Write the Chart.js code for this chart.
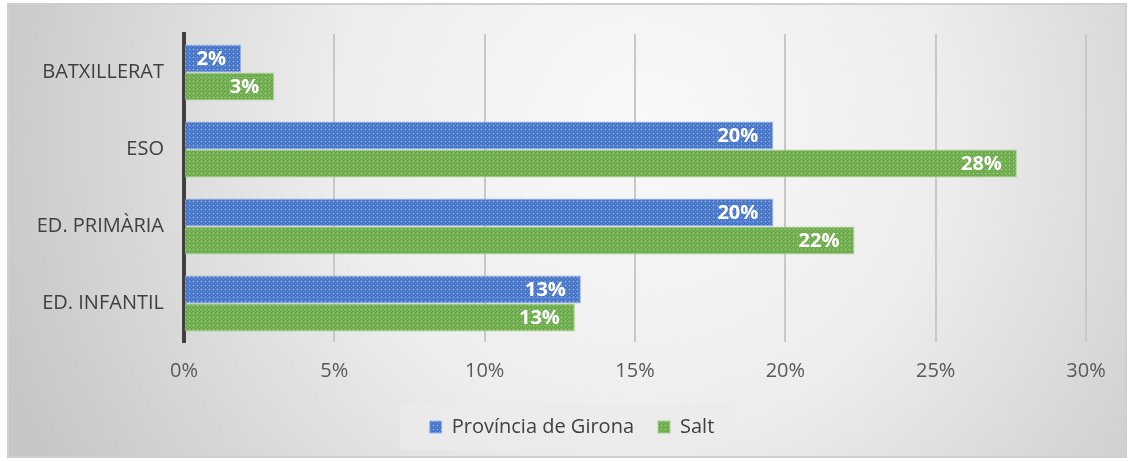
<!DOCTYPE html>
<html>
<head>
<meta charset="utf-8">
<script src="https://cdn.jsdelivr.net/npm/chart.js@4"></script>
<style>
  html, body { margin: 0; padding: 0; background: #ffffff; }
  canvas { display: block; }
</style>
</head>
<body>
<canvas id="chart" width="1132" height="461"></canvas>
<script>
// Chart data
const categories = ['BATXILLERAT', 'ESO', 'ED. PRIMÀRIA', 'ED. INFANTIL'];
const gironaValues = [1.9, 19.6, 19.6, 13.2];
const saltValues = [3.0, 27.7, 22.3, 13.0];
const seriesNames = ['Província de Girona', 'Salt'];
const xTickMax = 30;
const xTickStep = 5;

const FONT = "'Open Sans', 'DejaVu Sans', sans-serif";

// Small dotted texture for bar fills
function makePattern(base, light) {
  const c = document.createElement('canvas');
  c.width = 4;
  c.height = 4;
  const g = c.getContext('2d');
  g.fillStyle = base;
  g.fillRect(0, 0, 4, 4);
  g.fillStyle = light;
  g.fillRect(1, 0, 1, 1);
  g.fillRect(0, 1, 3, 1);
  g.fillRect(1, 2, 1, 1);
  g.fillRect(3, 3, 1, 1);
  return g.createPattern(c, 'repeat');
}

const blueFill = makePattern('#4472c4', 'rgba(130,162,225,0.7)');
const greenFill = makePattern('#6aa84a', 'rgba(150,200,120,0.7)');

// Gradient background + frame + legend panel
const backgroundPlugin = {
  id: 'background',
  afterUpdate(chart) {
    // nudge the legend to the right, like the original
    const lg = chart.legend;
    if (!lg || !lg.legendHitBoxes) return;
    const shift = 22;
    lg.left += shift;
    lg.right += shift;
    lg.legendHitBoxes.forEach(b => { b.left += shift; });
  },
  beforeDraw(chart) {
    const ctx = chart.ctx;
    const w = chart.width;
    const h = chart.height;
    ctx.save();
    ctx.fillStyle = '#ffffff';
    ctx.fillRect(0, 0, w, h);
    const grad = ctx.createRadialGradient(640, 130, 0, 640, 130, 680);
    grad.addColorStop(0, '#f9f9f9');
    grad.addColorStop(0.45, '#ededed');
    grad.addColorStop(1, '#c6c6c6');
    ctx.fillStyle = grad;
    ctx.fillRect(8, 4, w - 14, h - 8);
    ctx.strokeStyle = '#cfcfcf';
    ctx.lineWidth = 2;
    ctx.strokeRect(8, 4, w - 14, h - 8);

    const boxes = chart.legend && chart.legend.legendHitBoxes;
    if (boxes && boxes.length) {
      let left = Infinity, right = -Infinity, top = Infinity, bottom = -Infinity;
      boxes.forEach(b => {
        left = Math.min(left, b.left);
        right = Math.max(right, b.left + b.width);
        top = Math.min(top, b.top);
        bottom = Math.max(bottom, b.top + b.height);
      });
      const cy = (top + bottom) / 2;
      ctx.fillStyle = 'rgba(235,235,235,0.75)';
      ctx.fillRect(left - 30, cy - 23, right - left + 50, 46);
    }
    ctx.restore();
  }
};

// White value labels at the inside end of each bar
const valueLabelPlugin = {
  id: 'valueLabels',
  afterDatasetsDraw(chart) {
    const ctx = chart.ctx;
    ctx.save();
    ctx.font = 'bold 20px ' + FONT;
    ctx.fillStyle = '#ffffff';
    ctx.textAlign = 'right';
    ctx.textBaseline = 'middle';
    chart.data.datasets.forEach((ds, i) => {
      const meta = chart.getDatasetMeta(i);
      meta.data.forEach((bar, j) => {
        const text = Math.round(ds.data[j]) + '%';
        ctx.fillText(text, bar.x - 15, bar.y + 1);
      });
    });
    ctx.restore();
  }
};

const ctx = document.getElementById('chart').getContext('2d');
new Chart(ctx, {
  type: 'bar',
  data: {
    labels: categories,
    datasets: [
      {
        label: seriesNames[0],
        data: gironaValues,
        backgroundColor: blueFill,
        borderColor: '#9db6e6',
        borderWidth: 1,
        borderSkipped: 'left'
      },
      {
        label: seriesNames[1],
        data: saltValues,
        backgroundColor: greenFill,
        borderColor: '#a9d18e',
        borderWidth: 1,
        borderSkipped: 'left'
      }
    ]
  },
  options: {
    indexAxis: 'y',
    responsive: false,
    animation: false,
    devicePixelRatio: 1,
    layout: {
      padding: { left: 14, right: 46, top: 34, bottom: 14 }
    },
    datasets: {
      bar: {
        categoryPercentage: 0.73,
        barPercentage: 1.0
      }
    },
    scales: {
      x: {
        min: 0,
        max: xTickMax,
        ticks: {
          stepSize: xTickStep,
          callback: v => v + '%',
          color: '#595959',
          font: { family: FONT, size: 20 },
          padding: 17
        },
        grid: {
          color: '#c8c8c8',
          lineWidth: 2,
          drawTicks: false
        },
        border: { display: false },
        afterFit(scale) { scale.height = 51; }
      },
      y: {
        grid: { display: false, drawTicks: false },
        border: { display: true, color: '#404040', width: 4 },
        ticks: {
          color: '#404040',
          font: { family: FONT, size: 20 },
          padding: 20
        },
        afterFit(scale) { scale.width = 170; }
      }
    },
    plugins: {
      legend: {
        position: 'bottom',
        labels: {
          boxWidth: 12,
          boxHeight: 12,
          padding: 24,
          color: '#404040',
          font: { family: FONT, size: 20 }
        }
      },
      tooltip: { enabled: false }
    }
  },
  plugins: [backgroundPlugin, valueLabelPlugin]
});
</script>
</body>
</html>
